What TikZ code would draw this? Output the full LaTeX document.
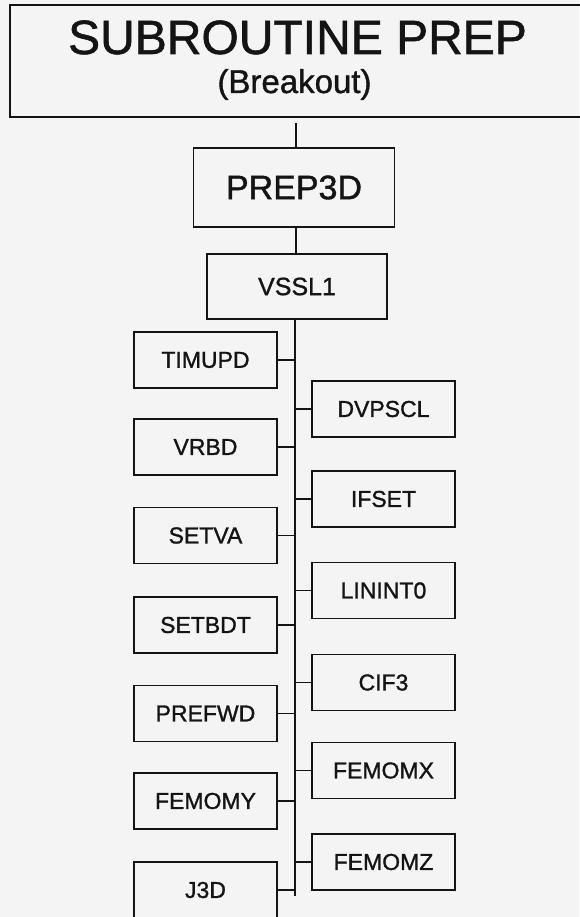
\documentclass[tikz,border=0pt]{standalone}
\usepackage{fontspec}
\setmainfont{Liberation Sans}[BoldFont={Liberation Sans}, BoldFeatures={FakeBold=1.2}]
\definecolor{paper}{HTML}{F4F4F4}
\definecolor{ink}{HTML}{141414}
\begin{document}
\begin{tikzpicture}[x=1pt,y=-1pt,
  sbox/.style={draw=ink, line width=1.6pt, minimum width=143pt, minimum height=56pt, inner sep=0pt,
    font=\fontsize{23pt}{23pt}\selectfont\bfseries, text=ink},
  conn/.style={draw=ink, line width=1.7pt}]
\fill[paper] (0,0) rectangle (579,917);
\useasboundingbox (0,0) rectangle (579,917);
% title box
\node[draw=ink, line width=1.7pt, minimum width=580pt, minimum height=112pt, inner sep=0pt, anchor=north west] (title) at (9,4.5) {};
\node[anchor=base, font=\fontsize{48pt}{48pt}\selectfont\bfseries, text=ink, inner sep=0pt] (tt) at (297.5,54) {SUBROUTINE PREP};
\node[anchor=base, font=\fontsize{33pt}{33pt}\selectfont\bfseries, text=ink, inner sep=0pt] (tb) at (294.5,93) {(Breakout)};
% main chain
\node[draw=ink, line width=1.6pt, minimum width=201pt, minimum height=79pt, inner sep=0pt,
  font=\fontsize{34pt}{34pt}\selectfont\bfseries, text=ink] (prep) at (294,187.5) {PREP3D};
\node[draw=ink, line width=1.6pt, minimum width=180pt, minimum height=65pt, inner sep=0pt,
  font=\fontsize{25pt}{25pt}\selectfont\bfseries, text=ink] (vssl) at (297,286.5) {VSSL1};
\coordinate (tTop) at (296,116.5);
\draw[conn] (tTop) ++(0,7) -- (tTop |- prep.north);
\draw[conn] (prep.south -| tTop) -- (vssl.north -| tTop);
% left boxes
\node[sbox] (timupd) at (205.5,360) {TIMUPD};
\node[sbox] (vrbd)   at (205.5,447) {VRBD};
\node[sbox] (setva)  at (205.5,535.5) {SETVA};
\node[sbox] (setbdt) at (205.5,625) {SETBDT};
\node[sbox] (prefwd) at (205.5,713.5) {PREFWD};
\node[sbox] (femomy) at (205.5,801) {FEMOMY};
\node[sbox] (jthreed) at (205.5,890) {J3D};
% right boxes
\node[sbox] (dvpscl) at (383.5,409) {DVPSCL};
\node[sbox] (ifset)  at (383.5,499) {IFSET};
\node[sbox] (linint) at (383.5,590.5) {LININT0};
\node[sbox] (cifthree) at (383.5,682.5) {CIF3};
\node[sbox] (femomx) at (383.5,770.5) {FEMOMX};
\node[sbox] (femomz) at (383.5,862) {FEMOMZ};
% trunk
\coordinate (trunkEnd) at (295,896);
\draw[conn] (vssl.south -| trunkEnd) -- (trunkEnd);
\foreach \n in {timupd,vrbd,setva,setbdt,prefwd,femomy,jthreed}
  \draw[conn] (\n.east) -- (\n.east -| trunkEnd);
\foreach \n in {dvpscl,ifset,linint,cifthree,femomx,femomz}
  \draw[conn] (\n.west) -- (\n.west -| trunkEnd);
\end{tikzpicture}
\end{document}
